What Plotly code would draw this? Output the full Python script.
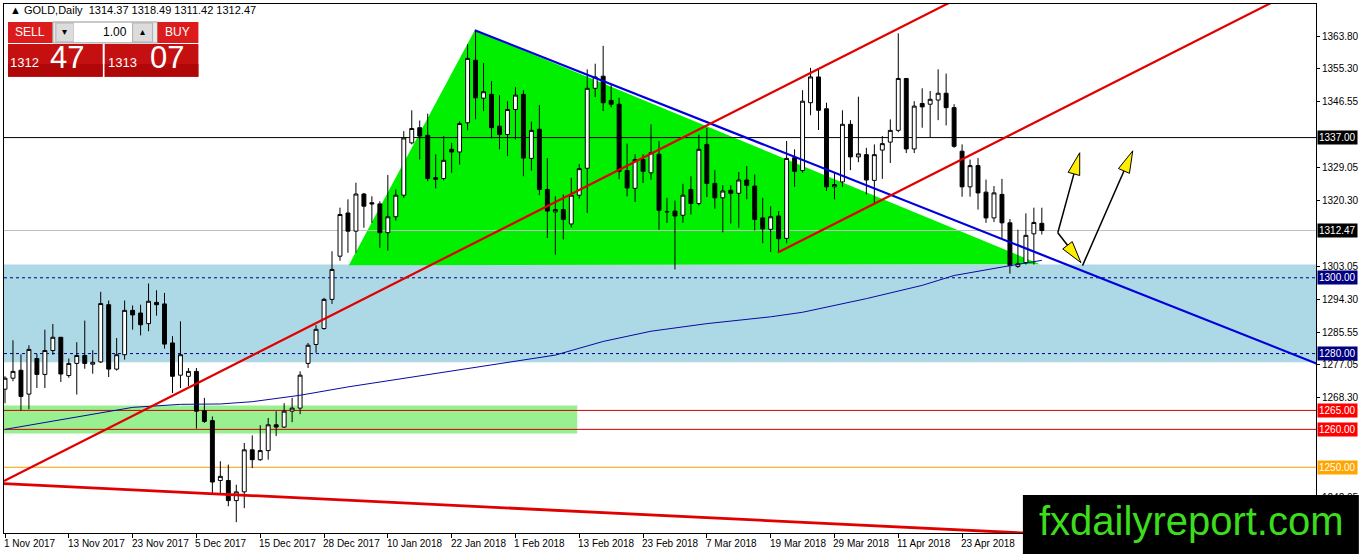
#%% Librerias
import plotly.graph_objects as go

# %% Datos: velas diarias GOLD (1 Nov 2017 - 7 May 2018), barra = indice
opens = [1270.6, 1273.5, 1275.6, 1269.3, 1278.7, 1274.5, 1280.8, 1284.3, 1274.2, 1277.4,
         1279.5, 1277.2, 1277.8, 1292.9, 1275.9, 1279.7, 1291.4, 1290.7, 1287.9, 1293.5,
         1293.1, 1282.8, 1274.3, 1274.0, 1275.3, 1264.9, 1262.3, 1246.5, 1246.5, 1241.2,
         1243.5, 1254.6, 1252.0, 1254.4, 1261.2, 1260.6, 1264.8, 1265.6, 1277.4, 1282.4,
         1286.6, 1294.3, 1305.7, 1317.1, 1312.3, 1322.1, 1319.8, 1319.5, 1311.9, 1316.1,
         1321.8, 1335.6, 1339.6, 1337.6, 1326.4, 1326.2, 1333.9, 1333.2, 1340.9, 1357.4,
         1347.4, 1348.4, 1340.0, 1337.8, 1344.4, 1348.4, 1331.5, 1339.2, 1323.3, 1317.4,
         1318.0, 1314.2, 1321.8, 1328.9, 1350.0, 1353.2, 1346.8, 1345.8, 1328.3, 1323.6,
         1331.2, 1327.7, 1332.6, 1317.5, 1317.6, 1316.5, 1323.3, 1319.6, 1335.2, 1324.9,
         1321.1, 1323.1, 1322.3, 1325.8, 1324.2, 1315.8, 1312.8, 1316.3, 1310.4, 1331.7,
         1328.3, 1346.2, 1353.0, 1344.6, 1324.0, 1325.3, 1340.5, 1331.9, 1332.5, 1325.7,
         1333.7, 1335.8, 1338.9, 1352.6, 1334.0, 1346.0, 1345.8, 1346.9, 1348.7, 1344.9,
         1333.4, 1324.0, 1329.6, 1322.6, 1315.8, 1322.0, 1314.5, 1303.0, 1304.0, 1311.6,
         1314.37]
highs = [1274.0, 1283.5, 1279.8, 1282.2, 1279.9, 1286.3, 1287.8, 1284.3, 1278.7, 1283.0,
         1288.7, 1280.9, 1296.3, 1294.0, 1284.1, 1294.0, 1292.7, 1292.9, 1298.5, 1296.7,
         1296.0, 1284.6, 1288.5, 1276.2, 1276.2, 1268.3, 1263.4, 1251.6, 1250.7, 1245.4,
         1256.4, 1258.4, 1261.1, 1263.0, 1264.8, 1266.9, 1268.3, 1275.3, 1282.8, 1287.5,
         1294.7, 1307.0, 1318.5, 1320.7, 1325.1, 1322.4, 1321.5, 1320.2, 1327.1, 1323.3,
         1338.7, 1344.2, 1341.5, 1343.3, 1332.6, 1337.4, 1335.6, 1341.3, 1361.6, 1365.3,
         1356.7, 1351.9, 1348.2, 1346.6, 1350.3, 1349.5, 1341.2, 1345.6, 1331.6, 1321.5,
         1322.0, 1326.4, 1330.0, 1355.0, 1356.5, 1361.2, 1351.2, 1347.5, 1335.4, 1332.6,
         1332.6, 1340.5, 1336.1, 1321.1, 1320.4, 1324.8, 1326.8, 1337.8, 1339.6, 1328.4,
         1324.4, 1324.4, 1327.9, 1329.5, 1327.3, 1321.1, 1318.9, 1317.6, 1336.1, 1333.9,
         1349.5, 1355.4, 1355.2, 1346.2, 1327.7, 1344.2, 1341.6, 1347.8, 1334.3, 1335.2,
         1337.4, 1341.8, 1364.5, 1352.6, 1346.6, 1350.0, 1349.3, 1355.0, 1353.9, 1345.8,
         1335.2, 1331.2, 1331.6, 1325.9, 1324.2, 1326.1, 1315.5, 1312.7, 1317.0, 1318.5,
         1318.49]
lows = [1266.9, 1272.7, 1265.0, 1265.3, 1270.9, 1270.9, 1279.7, 1272.5, 1273.6, 1269.2,
        1276.0, 1274.7, 1277.5, 1273.8, 1275.5, 1278.4, 1286.3, 1284.8, 1285.9, 1290.0,
        1281.3, 1269.6, 1270.9, 1271.4, 1260.2, 1261.7, 1242.9, 1243.2, 1239.7, 1235.5,
        1239.2, 1249.8, 1251.7, 1252.0, 1258.2, 1260.4, 1261.9, 1264.0, 1276.2, 1280.2,
        1286.3, 1293.1, 1304.5, 1306.6, 1306.6, 1313.2, 1314.5, 1307.9, 1307.2, 1315.1,
        1321.1, 1335.2, 1331.2, 1325.5, 1323.6, 1325.7, 1327.7, 1329.9, 1338.9, 1341.8,
        1344.0, 1336.8, 1333.9, 1332.1, 1336.5, 1326.8, 1328.3, 1321.8, 1310.5, 1306.1,
        1310.1, 1313.3, 1320.9, 1317.1, 1347.7, 1344.0, 1345.0, 1326.0, 1321.5, 1320.0,
        1325.0, 1325.9, 1312.7, 1314.5, 1302.2, 1314.5, 1316.7, 1319.1, 1321.3, 1318.2,
        1312.0, 1314.3, 1313.2, 1320.7, 1312.5, 1309.1, 1306.8, 1306.6, 1309.1, 1324.0,
        1327.7, 1342.9, 1339.0, 1322.9, 1320.7, 1324.0, 1328.4, 1330.5, 1322.0, 1319.6,
        1326.1, 1330.3, 1338.4, 1332.9, 1332.9, 1339.6, 1336.9, 1341.6, 1340.2, 1334.3,
        1321.4, 1321.4, 1318.0, 1314.5, 1314.7, 1310.5, 1301.1, 1302.6, 1303.5, 1303.5,
        1311.42]
closes = [1273.5, 1275.3, 1268.7, 1281.1, 1274.5, 1280.8, 1284.3, 1274.6, 1277.4, 1279.5,
          1277.4, 1277.7, 1293.2, 1275.9, 1279.7, 1291.4, 1290.2, 1287.6, 1293.8, 1292.9,
          1282.5, 1274.0, 1279.7, 1275.3, 1264.8, 1262.1, 1246.1, 1247.6, 1241.2, 1243.5,
          1254.6, 1252.0, 1254.4, 1261.2, 1260.6, 1264.8, 1265.6, 1274.3, 1282.2, 1286.4,
          1294.3, 1302.2, 1316.7, 1312.3, 1322.1, 1318.9, 1319.5, 1311.9, 1316.1, 1321.8,
          1336.9, 1339.4, 1337.4, 1326.2, 1326.0, 1331.0, 1333.2, 1340.7, 1357.9, 1347.5,
          1349.1, 1339.6, 1337.8, 1344.4, 1348.2, 1331.6, 1338.9, 1323.3, 1317.6, 1318.0,
          1315.4, 1321.8, 1328.8, 1350.0, 1353.0, 1346.2, 1345.8, 1328.1, 1323.7, 1331.2,
          1328.1, 1333.0, 1317.8, 1317.4, 1316.3, 1321.8, 1319.6, 1333.9, 1324.9, 1321.1,
          1322.9, 1322.3, 1325.8, 1324.4, 1315.4, 1312.9, 1316.1, 1310.3, 1331.5, 1328.1,
          1346.6, 1353.0, 1344.2, 1324.0, 1324.6, 1340.5, 1331.9, 1332.7, 1325.8, 1332.5,
          1335.4, 1338.9, 1352.6, 1334.0, 1345.3, 1345.1, 1347.1, 1348.7, 1344.9, 1334.7,
          1324.0, 1329.6, 1322.4, 1315.8, 1322.4, 1314.5, 1303.2, 1303.7, 1311.2, 1314.6,
          1312.47]

ma_bars = [0, 4, 8, 12, 16, 22, 27, 31, 37, 43, 56, 69, 75, 81, 88, 96, 100, 108, 115, 119, 126, 130]
ma_vals = [1260.0, 1261.5, 1262.9, 1264.4, 1265.8, 1266.6, 1266.7, 1267.3, 1269.0, 1271.2, 1275.4,
           1279.6, 1283.2, 1285.9, 1287.9, 1289.7, 1290.9, 1294.5, 1298.0, 1300.6, 1303.2, 1304.6]

# Eje x: etiquetas de fecha cada 8 barras
fecha_pos = [0, 8, 16, 24, 32, 40, 48, 56, 64, 72, 80, 88, 96, 104, 112, 120]
fecha_labels = ["1 Nov 2017", "13 Nov 2017", "23 Nov 2017", "5 Dec 2017", "15 Dec 2017",
                "28 Dec 2017", "10 Jan 2018", "22 Jan 2018", "1 Feb 2018", "13 Feb 2018",
                "23 Feb 2018", "7 Mar 2018", "19 Mar 2018", "29 Mar 2018", "11 Apr 2018",
                "23 Apr 2018"]

# Eje y (derecha)
y_ticks = [1363.80, 1355.30, 1346.55, 1329.05, 1320.30, 1303.05, 1294.30,
           1285.55, 1277.05, 1268.30, 1242.05]

# Niveles horizontales y sus etiquetas
niveles = [1337.00, 1312.47, 1300.00, 1280.00, 1265.00, 1260.00, 1250.00]
niveles_color = ["black", "#c0c0c0", "#000080", "#000080", "#d00000", "#d00000", "#f5a000"]
niveles_caja = ["black", "black", "#000080", "#000080", "#ff0000", "#ff0000", "#ffa500"]

# Zonas
zona_azul = [1277.7, 1303.5]
zona_verde = [1258.9, 1266.3]
zona_verde_fin = 71.75

# Triangulo (barra, precio)
tri_bars = [43.1, 58.9, 129.75]
tri_precios = [1303.3, 1365.3, 1303.6]

# Lineas de tendencia (barra, precio)
azul_bars, azul_precios = [58.9, 165.0], [1365.34, 1276.9]
rojo1_bars, rojo1_precios = [-0.125, 125.0], [1246.4, 1379.6]
rojo2_bars, rojo2_precios = [96.9, 165.0], [1306.7, 1379.2]
rojo3_bars, rojo3_precios = [-0.125, 135.0], [1245.7, 1231.9]

# Flechas (inicio, punta) en (barra, precio)
flechas = [((132.0, 1311.9), (134.75, 1333.0)),
           ((132.0, 1311.9), (134.9, 1304.0)),
           ((135.1, 1303.2), (141.4, 1333.5))]

# %% Geometria de la figura
W, H = 1362, 554
L_M, R_M, T_M, B_M = 3, 43, 3, 21
PX_BAR = 8.0
PX_PRECIO = 3.8
X_RANGE = [-0.125, 164.375]
Y_RANGE = [1232.65, 1372.25]


def pxx(p):
    return (p - L_M) / (W - L_M - R_M)


def pxy(p):
    return 1 - (p - T_M) / (H - T_M - B_M)


barras = list(range(len(opens)))
fig = go.Figure()

# Media movil
fig.add_trace(go.Scatter(x=ma_bars, y=ma_vals, mode="lines",
                         line=dict(color="#0a0aa0", width=1), hoverinfo="skip"))

# Velas
fig.add_trace(go.Candlestick(
    x=barras, open=opens, high=highs, low=lows, close=closes,
    increasing=dict(fillcolor="white", line=dict(color="black", width=1)),
    decreasing=dict(fillcolor="black", line=dict(color="black", width=1)),
    whiskerwidth=0,
))

# Lineas de tendencia
for bx, py, col, w in [(azul_bars, azul_precios, "#0000dd", 2.2),
                       (rojo1_bars, rojo1_precios, "#e00000", 2.2),
                       (rojo2_bars, rojo2_precios, "#e00000", 2.2),
                       (rojo3_bars, rojo3_precios, "#e00000", 2.8)]:
    fig.add_trace(go.Scatter(x=bx, y=py, mode="lines", line=dict(color=col, width=w),
                             hoverinfo="skip"))

shapes = []
# zona azul
shapes.append(dict(type="rect", xref="x", yref="y", x0=X_RANGE[0], x1=X_RANGE[1],
                   y0=zona_azul[0], y1=zona_azul[1], fillcolor="#add8e6",
                   line=dict(width=0), layer="below"))
# zona verde
shapes.append(dict(type="rect", xref="x", yref="y", x0=X_RANGE[0], x1=zona_verde_fin,
                   y0=zona_verde[0], y1=zona_verde[1], fillcolor="#98f090",
                   line=dict(width=0), layer="below"))
# triangulo
path = "M {} {} L {} {} L {} {} Z".format(tri_bars[0], tri_precios[0], tri_bars[1],
                                           tri_precios[1], tri_bars[2], tri_precios[2])
shapes.append(dict(type="path", xref="x", yref="y", path=path, fillcolor="#00f000",
                   line=dict(width=0), layer="below"))
# niveles
for nv, col in zip(niveles, niveles_color):
    dash = "3px,3px" if col == "#000080" else "solid"
    shapes.append(dict(type="line", xref="x", yref="y", x0=X_RANGE[0], x1=X_RANGE[1],
                       y0=nv, y1=nv, line=dict(color=col, width=1, dash=dash), layer="below"))

# flechas amarillas
for (b0, p0), (b1, p1) in flechas:
    dx = (b1 - b0) * PX_BAR
    dy = (p1 - p0) * PX_PRECIO
    n = (dx ** 2 + dy ** 2) ** 0.5
    ux, uy = dx / n, dy / n
    largo, ancho = 22, 6
    bxp = b1 * PX_BAR - ux * largo
    byp = p1 * PX_PRECIO - uy * largo
    pts = [(b1 * PX_BAR, p1 * PX_PRECIO),
           (bxp - uy * ancho, byp + ux * ancho),
           (bxp + uy * ancho, byp - ux * ancho)]
    pts = [(a / PX_BAR, c / PX_PRECIO) for a, c in pts]
    fig.add_trace(go.Scatter(x=[b0, bxp / PX_BAR], y=[p0, byp / PX_PRECIO], mode="lines",
                             line=dict(color="black", width=1.5), hoverinfo="skip"))
    shapes.append(dict(type="path", xref="x", yref="y",
                       path="M {} {} L {} {} L {} {} Z".format(*pts[0], *pts[1], *pts[2]),
                       fillcolor="#ffee00", line=dict(color="black", width=1)))

# panel SELL / BUY
def caja(x0, y0, x1, y1, color, borde=None):
    shapes.append(dict(type="rect", xref="paper", yref="paper",
                       x0=pxx(x0), x1=pxx(x1), y0=pxy(y1), y1=pxy(y0), fillcolor=color,
                       line=dict(width=1 if borde else 0, color=borde or color), layer="above"))

caja(5, 20, 199, 77, "white")
caja(7, 21, 52, 42, "#dc1c1c")
caja(52, 21, 157, 42, "#e8e8e8", "#a0a0a0")
caja(55, 22, 73, 41, "#dcdcdc", "#b0b0b0")
caja(73, 22, 132, 41, "white")
caja(132, 22, 152, 41, "#dcdcdc", "#b0b0b0")
caja(157, 21, 198, 42, "#dc1c1c")
caja(7, 43, 102, 76, "#c41010")
caja(104, 43, 198, 76, "#c41010")
caja(7, 63, 102, 76, "#b00808")
caja(104, 63, 198, 76, "#b00808")

# marca de agua
caja(1025, 495, 1362, 554, "black")

annotations = []


def texto(x, y, t, size, color="black", xanchor="left", family="Liberation Sans"):
    annotations.append(dict(xref="paper", yref="paper", x=pxx(x), y=pxy(y), text=t,
                            showarrow=False, xanchor=xanchor, yanchor="middle",
                            font=dict(size=size, color=color, family=family)))


texto(7, 9, "▲ GOLD,Daily  1314.37 1318.49 1311.42 1312.47", 11)
texto(29, 31, "SELL", 12, "white", "center")
texto(177, 31, "BUY", 12, "white", "center")
texto(64, 31, "▾", 10, "black", "center")
texto(142, 31, "▴", 10, "black", "center")
texto(128, 31, "1.00", 12, "black", "right")
texto(24, 62, "1312", 13, "white", "center")
texto(66, 57, "47", 31, "white", "center")
texto(122, 62, "1313", 13, "white", "center")
texto(166, 57, "07", 31, "white", "center")
texto(1194, 521, "fxdailyreport.com", 40, "#3ddc1e", "center")

# etiquetas de niveles en el eje derecho
for nv, col in zip(niveles, niveles_caja):
    annotations.append(dict(xref="paper", yref="y", x=1, y=nv, text="%.2f" % nv,
                            showarrow=False, xanchor="left", yanchor="middle", xshift=1,
                            bgcolor=col, borderpad=1,
                            font=dict(size=10, color="white", family="Liberation Sans")))

# fechas (alineadas a la izquierda de la marca)
for pos, lab in zip(fecha_pos, fecha_labels):
    annotations.append(dict(xref="x", yref="paper", x=pos, y=0, text=lab, showarrow=False,
                            xanchor="left", yanchor="top", xshift=-3, yshift=-3,
                            font=dict(size=10, color="black", family="Liberation Sans")))

fig.update_layout(
    width=W, height=H,
    margin=dict(l=L_M, r=R_M, t=T_M, b=B_M),
    paper_bgcolor="white", plot_bgcolor="white",
    showlegend=False,
    shapes=shapes,
    annotations=annotations,
    xaxis=dict(range=X_RANGE, rangeslider=dict(visible=False), showgrid=False,
               zeroline=False, showline=True, linecolor="black", linewidth=1, mirror=True,
               tickvals=fecha_pos, showticklabels=False, ticks="outside", ticklen=4,
               tickcolor="black"),
    yaxis=dict(range=Y_RANGE, side="right", showgrid=False, zeroline=False, showline=True,
               linecolor="black", linewidth=1, mirror=True, tickvals=y_ticks,
               ticktext=["%.2f" % v for v in y_ticks], ticks="outside", ticklen=3,
               tickcolor="black",
               tickfont=dict(size=10, color="black", family="Liberation Sans")),
)

# sin margen del body para que la figura ocupe la ventana exacta
fig.write_html("out.html", config={"displayModeBar": False},
               post_script="document.body.style.margin='0';document.body.style.overflow='hidden';")
